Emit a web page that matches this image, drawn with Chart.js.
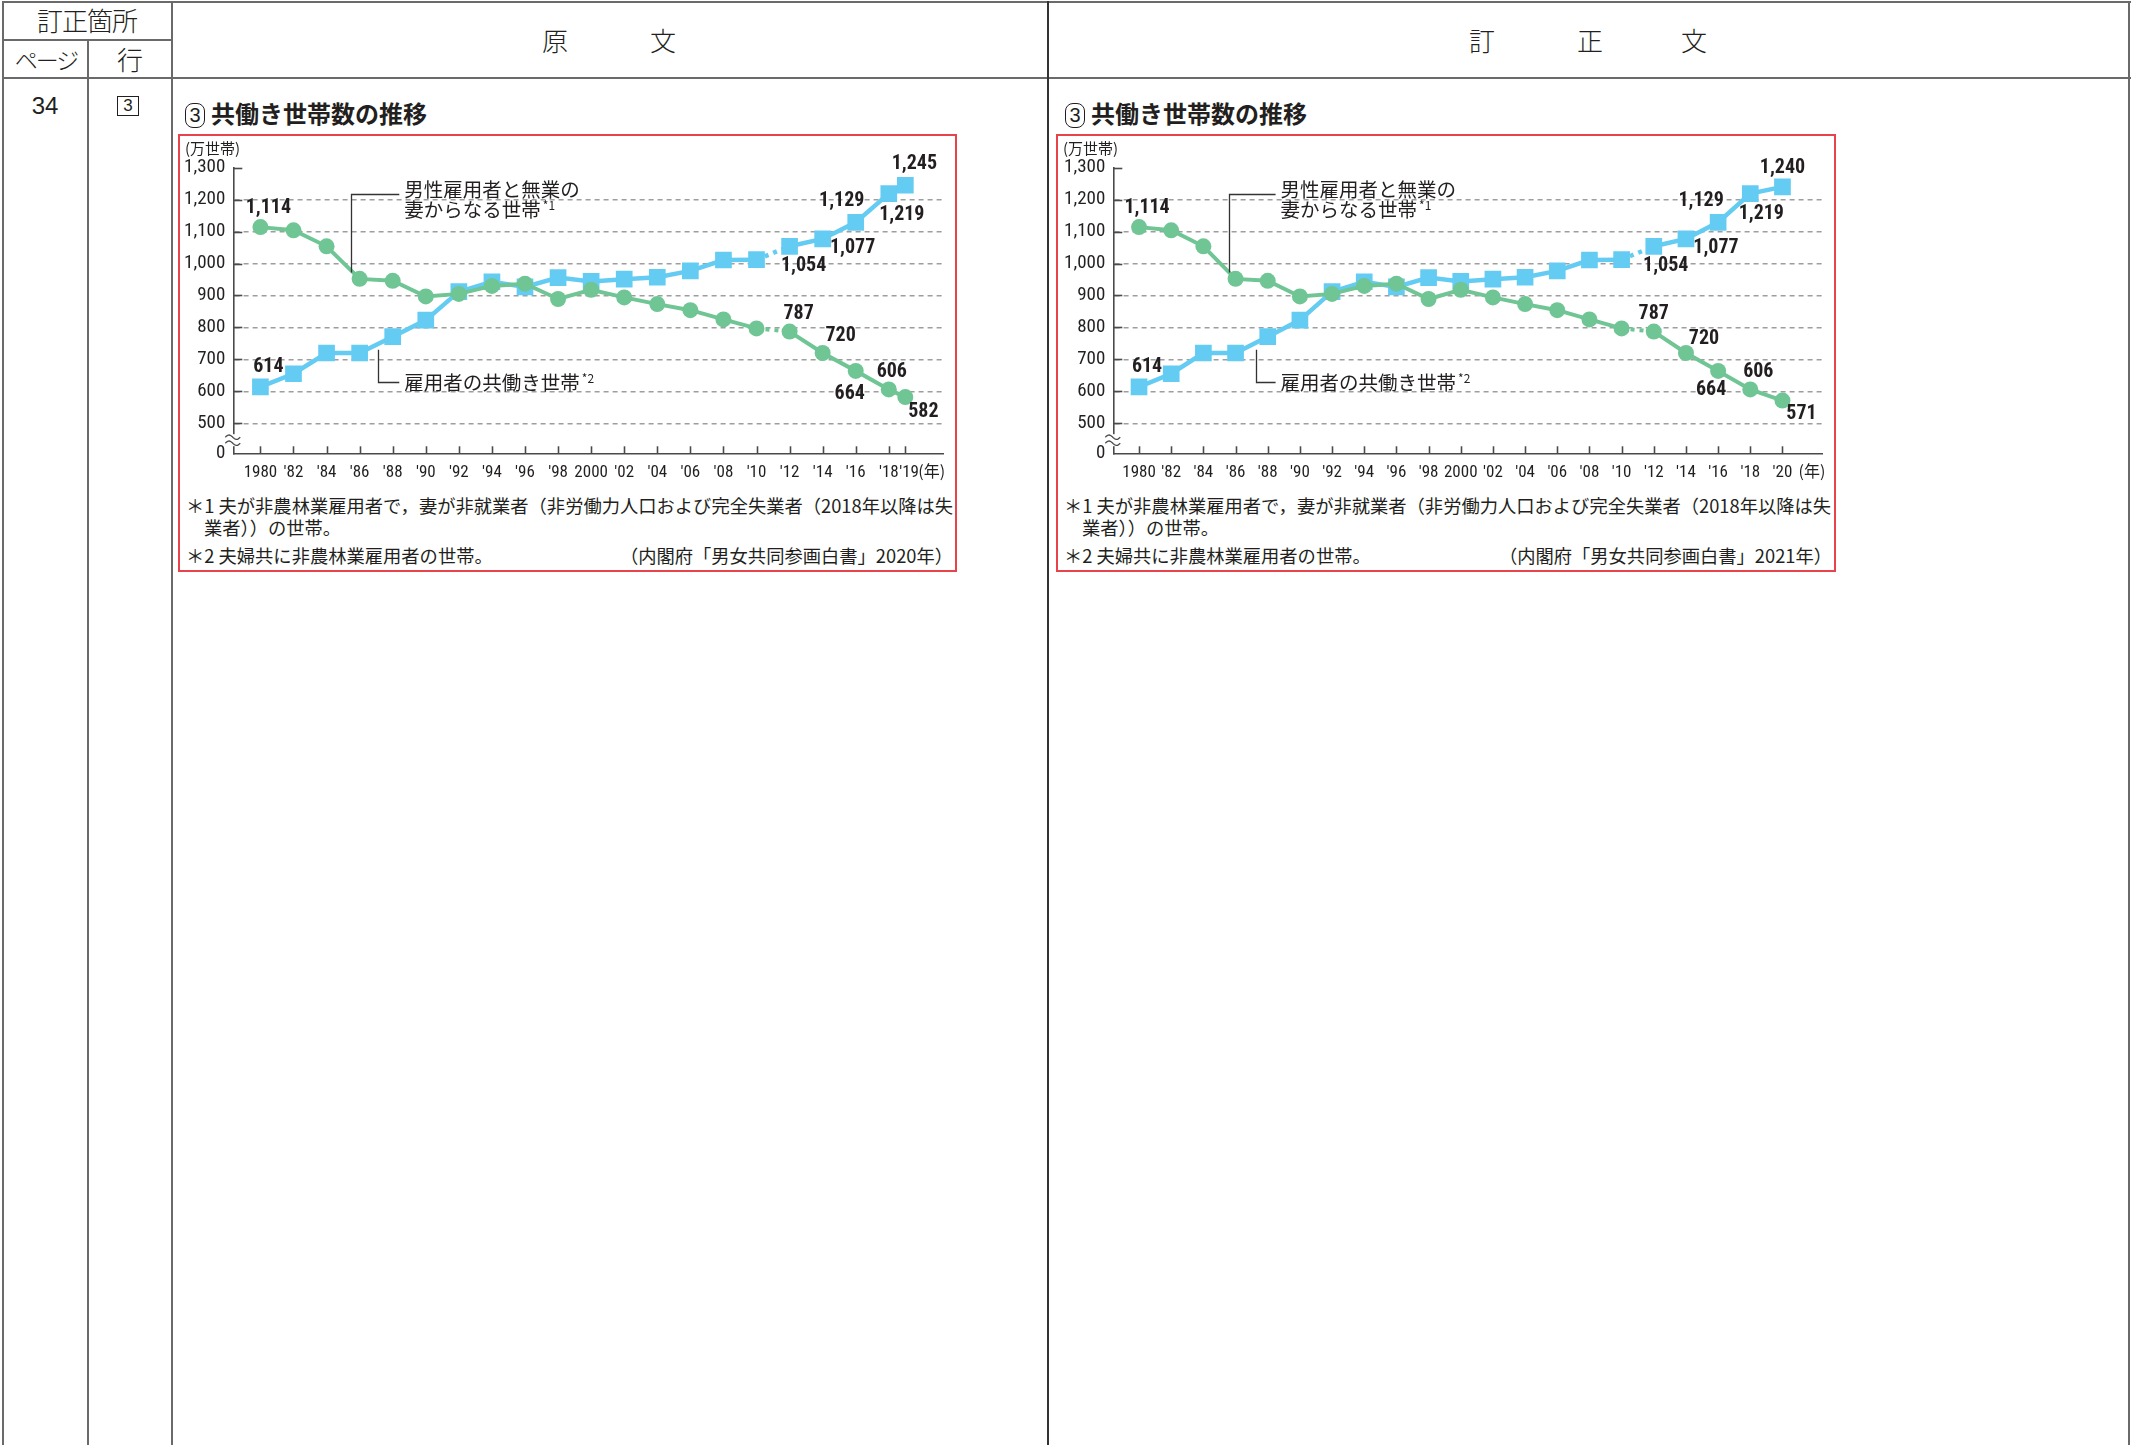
<!DOCTYPE html>
<html>
<head>
<meta charset="utf-8">
<script src="https://cdn.jsdelivr.net/npm/chart.js@4.4.0/dist/chart.umd.min.js"></script>
<style>
body { margin: 0; background: #fff; }
#page { position: relative; width: 2134px; height: 1445px; overflow: hidden; font-family: 'Noto Sans CJK JP', sans-serif; color: #231f20; }
.ln { position: absolute; background: #6a6a6a; }
.t { position: absolute; white-space: nowrap; line-height: 1; transform: translate(-50%, -50%); }
.hd { font-size: 26px; font-weight: 300; }
.title { position: absolute; white-space: nowrap; font-size: 24px; font-weight: 700; line-height: 28px; }
.circ { display: inline-block; width: 18px; height: 23px; border: 1.8px solid #231f20; border-radius: 8px; font-size: 20px; line-height: 23px; text-align: center; font-weight: 400; margin-right: 6px; vertical-align: 1px; font-family: 'Liberation Sans', sans-serif; }
.frame { position: absolute; border: 2px solid #e8434b; box-sizing: border-box; }
.frame canvas { position: absolute; left: 0; top: 0; }
.note { position: absolute; font-size: 18.3px; line-height: 18px; white-space: nowrap; }
</style>
</head>
<body>
<div id="page">
  <!-- table rules -->
  <div class="ln" style="left:2px;top:1px;width:2129px;height:2px"></div>
  <div class="ln" style="left:2px;top:39px;width:170px;height:2px"></div>
  <div class="ln" style="left:2px;top:77px;width:2129px;height:2px"></div>
  <div class="ln" style="left:2px;top:1px;width:2px;height:1444px"></div>
  <div class="ln" style="left:87px;top:39px;width:2px;height:1406px"></div>
  <div class="ln" style="left:171px;top:1px;width:2px;height:1444px"></div>
  <div class="ln" style="left:1047px;top:1px;width:2px;height:1444px;background:#333"></div>
  <div class="ln" style="left:2128px;top:1px;width:2px;height:1444px"></div>

  <div class="t hd" style="left:87px;top:20px;letter-spacing:-1px">訂正箇所</div>
  <div class="t hd" style="left:46px;top:59px;font-size:23px;letter-spacing:-2px">ページ</div>
  <div class="t hd" style="left:130px;top:59px">行</div>
  <div class="t hd" style="left:555px;top:40px">原</div>
  <div class="t hd" style="left:663px;top:40px">文</div>
  <div class="t hd" style="left:1482px;top:40px">訂</div>
  <div class="t hd" style="left:1590px;top:40px">正</div>
  <div class="t hd" style="left:1694px;top:40px">文</div>

  <div class="t" style="left:45px;top:106px;font-size:24px;font-family:'Liberation Sans',sans-serif">34</div>
  <div class="t" style="left:128px;top:106px;width:20px;height:18px;border:1.5px solid #231f20;font-size:17px;line-height:18px;text-align:center;font-family:'Liberation Sans',sans-serif">3</div>

  <div class="title" style="left:185px;top:99px"><span class="circ">3</span>共働き世帯数の推移</div>
  <div class="title" style="left:1065px;top:99px"><span class="circ">3</span>共働き世帯数の推移</div>

  <div class="frame" style="left:178px;top:134px;width:779px;height:438px">
    <canvas id="chartOld" width="775" height="356"></canvas>
    <div class="note" style="left:6px;top:360px">＊1 夫が非農林業雇用者で，妻が非就業者（非労働力人口および完全失業者（2018年以降は失</div>
    <div class="note" style="left:24px;top:382px">業者））の世帯。</div>
    <div class="note" style="left:6px;top:410px">＊2 夫婦共に非農林業雇用者の世帯。</div>
    <div class="note" style="right:2px;top:410px">（内閣府「男女共同参画白書」2020年）</div>
  </div>

  <div class="frame" style="left:1056px;top:134px;width:780px;height:438px">
    <canvas id="chartNew" width="776" height="356"></canvas>
    <div class="note" style="left:6px;top:360px">＊1 夫が非農林業雇用者で，妻が非就業者（非労働力人口および完全失業者（2018年以降は失</div>
    <div class="note" style="left:24px;top:382px">業者））の世帯。</div>
    <div class="note" style="left:6px;top:410px">＊2 夫婦共に非農林業雇用者の世帯。</div>
    <div class="note" style="right:2px;top:410px">（内閣府「男女共同参画白書」2021年）</div>
  </div>
</div>

<script>
// --- data (万世帯) ---
var yearsOld = [1980,1982,1984,1986,1988,1990,1992,1994,1996,1998,2000,2002,2004,2006,2008,2010,2012,2014,2016,2018,2019];
var xLabelsOld = ['1980',"'82","'84","'86","'88","'90","'92","'94","'96","'98",'2000',"'02","'04","'06","'08","'10","'12","'14","'16","'18","'19"];
var dualOld   = [614,655,720,720,771,823,912,943,927,956,944,951,957,977,1011,1012,1054,1077,1129,1219,1245];
var singleOld = [1114,1104,1054,952,946,897,905,930,937,889,918,894,873,854,825,797,787,720,664,606,582];

var yearsNew = [1980,1982,1984,1986,1988,1990,1992,1994,1996,1998,2000,2002,2004,2006,2008,2010,2012,2014,2016,2018,2020];
var xLabelsNew = ['1980',"'82","'84","'86","'88","'90","'92","'94","'96","'98",'2000',"'02","'04","'06","'08","'10","'12","'14","'16","'18","'20"];
var dualNew   = [614,655,720,720,771,823,912,943,927,956,944,951,957,977,1011,1012,1054,1077,1129,1219,1240];
var singleNew = [1114,1104,1054,952,946,897,905,930,937,889,918,894,873,854,825,797,787,720,664,606,571];

var yTicks = [500,600,700,800,900,1000,1100,1200,1300];

var BLUE = '#64ccf3';
var GREEN = '#6fc594';
var INK = '#231f20';
var AXIS = '#4a4a4a';
var Y_MIN = 406;   // where the broken axis shows "0"
var NARROW = "'Roboto Condensed','DejaVu Sans Condensed',Roboto,sans-serif";
var JP = "'Noto Sans CJK JP',sans-serif";

Chart.defaults.font.family = NARROW;
Chart.defaults.color = INK;

function fmt(v){ return v.toLocaleString('en-US'); }

function sine(c, x0, y0, w, a){
    c.beginPath();
    for (var t = 0; t <= w; t++) {
        var y = y0 - a * Math.sin(t / w * Math.PI * 2);
        if (t === 0) c.moveTo(x0 + t, y); else c.lineTo(x0 + t, y);
    }
    c.stroke();
}

var decor = {
    id: 'decor',
    afterDraw: function(chart, args, o){
        var c = chart.ctx, xs = chart.scales.x, ys = chart.scales.y, ca = chart.chartArea;
        c.save();
        // ticks on the axes, pointing inwards
        c.strokeStyle = AXIS; c.lineWidth = 1.6;
        yTicks.forEach(function(v){
            var y = Math.round(ys.getPixelForValue(v)) + 0.5;
            c.beginPath(); c.moveTo(ca.left, y); c.lineTo(ca.left + 9, y); c.stroke();
        });
        o.years.forEach(function(v){
            var x = Math.round(xs.getPixelForValue(v)) + 0.5;
            c.beginPath(); c.moveTo(x, ca.bottom); c.lineTo(x, ca.bottom - 7); c.stroke();
        });
        // axis break
        var yb = ys.getPixelForValue(447);
        c.fillStyle = '#fff';
        c.fillRect(ca.left - 3, yb - 6, 6, 12);
        c.lineWidth = 1.3;
        sine(c, ca.left - 8, yb - 3, 15, 2.2);
        sine(c, ca.left - 8, yb + 3, 15, 2.2);

        // unit and year labels
        c.fillStyle = INK;
        c.textBaseline = 'middle';
        c.textAlign = 'left';
        c.font = '15px ' + JP;
        c.fillText('(万世帯)', 5, 12);
        c.font = '16px ' + JP;
        var last = o.years[o.years.length - 1];
        c.fillText('(年)', xs.getPixelForValue(last) + o.yearGap, ca.bottom + 18);

        // value labels
        c.textAlign = 'center';
        c.font = 'bold 20px ' + NARROW;
        o.spots.forEach(function(s){
            var ds = chart.data.datasets[s.ds];
            var pt = chart.getDatasetMeta(s.ds).data[s.i];
            c.fillText(fmt(ds.data[s.i].y), pt.x + s.dx, pt.y + s.dy);
        });

        // leader lines and series names
        c.strokeStyle = '#333'; c.lineWidth = 1.3;
        var tx = xs.getPixelForValue(o.textYear);
        var gx = Math.round(xs.getPixelForValue(o.greenLead)) + 0.5;
        var gy = Math.round(ys.getPixelForValue(1218)) + 0.5;
        c.beginPath(); c.moveTo(tx - 5, gy); c.lineTo(gx, gy); c.lineTo(gx, ys.getPixelForValue(972)); c.stroke();
        var bx = Math.round(xs.getPixelForValue(o.blueLead)) + 0.5;
        var by = Math.round(ys.getPixelForValue(630)) + 0.5;
        c.beginPath(); c.moveTo(bx, ys.getPixelForValue(730)); c.lineTo(bx, by); c.lineTo(tx - 5, by); c.stroke();

        c.textAlign = 'left';
        c.font = '19.5px ' + JP;
        c.fillText('男性雇用者と無業の', tx, ys.getPixelForValue(1233));
        var l2 = '妻からなる世帯';
        c.fillText(l2, tx, ys.getPixelForValue(1168));
        var w2 = c.measureText(l2).width;
        var l3 = '雇用者の共働き世帯';
        c.fillText(l3, tx, by);
        var w3 = c.measureText(l3).width;
        c.font = '12px ' + JP;
        c.fillText('*1', tx + w2 + 2, ys.getPixelForValue(1168) - 4);
        c.fillText('*2', tx + w3 + 2, by - 4);
        c.restore();
    }
};

function makeChart(id, years, xLabels, dual, single, o){
    var ctx = document.getElementById(id).getContext('2d');
    return new Chart(ctx, {
        type: 'line',
        plugins: [decor],
        data: {
            datasets: [{
                label: '男性雇用者と無業の妻からなる世帯',
                data: years.map(function(y, i){ return {x: y, y: single[i]}; }),
                borderColor: GREEN,
                backgroundColor: GREEN,
                borderWidth: 4,
                pointStyle: 'circle',
                pointRadius: 8,
                pointBorderWidth: 0,
                segment: { borderDash: function(s){ return s.p0.parsed.x === 2010 ? [4, 5] : undefined; } }
            }, {
                label: '雇用者の共働き世帯',
                data: years.map(function(y, i){ return {x: y, y: dual[i]}; }),
                borderColor: BLUE,
                backgroundColor: BLUE,
                borderWidth: 4.5,
                pointStyle: 'rect',
                pointRadius: 11.8,
                pointBorderWidth: 0,
                segment: { borderDash: function(s){ return s.p0.parsed.x === 2010 ? [4, 5] : undefined; } }
            }]
        },
        options: {
            animation: false,
            responsive: false,
            devicePixelRatio: 1,
            layout: { padding: { top: 31.7, right: o.padRight, left: 0, bottom: 0 } },
            plugins: {
                legend: { display: false },
                tooltip: { enabled: false },
                decor: o
            },
            scales: {
                x: {
                    type: 'linear',
                    min: o.xMin,
                    max: o.xMax,
                    afterBuildTicks: function(s){ s.ticks = years.map(function(v){ return {value: v}; }); },
                    afterFit: function(s){ s.height = 38.7; },
                    ticks: {
                        autoSkip: false, maxRotation: 0, padding: 9, color: INK,
                        font: { size: 17 },
                        callback: function(v){
                            var i = years.indexOf(v);
                            // the odd last year sits close to '18, nudge it right a little
                            return (o.nudgeLast && i === years.length - 1) ? '\u2002' + xLabels[i] : xLabels[i];
                        }
                    },
                    grid: { display: false, drawTicks: false },
                    border: { display: true, color: AXIS, width: 1.6 }
                },
                y: {
                    min: Y_MIN,
                    max: 1300,
                    afterBuildTicks: function(s){ s.ticks = [Y_MIN].concat(yTicks).map(function(v){ return {value: v}; }); },
                    afterFit: function(s){ s.width = o.yAxisW; },
                    ticks: {
                        padding: 8, color: INK,
                        font: { size: 19 },
                        callback: function(v){ return v === Y_MIN ? '0' : fmt(v); }
                    },
                    grid: {
                        drawTicks: false,
                        lineWidth: 1.5,
                        color: function(c){ return (c.tick && (c.tick.value === Y_MIN || c.tick.value === 1300)) ? 'rgba(0,0,0,0)' : '#9e9e9e'; }
                    },
                    border: { display: true, color: AXIS, width: 1.6, dash: [5, 4] }
                }
            }
        }
    });
}

makeChart('chartOld', yearsOld, xLabelsOld, dualOld, singleOld, {
    years: yearsOld, xMin: 1978.36, xMax: 2021.29, yAxisW: 53.3, padRight: 5, yearGap: 13, nudgeLast: true,
    textYear: 1988.7, greenLead: 1985.5, blueLead: 1987.1,
    spots: [
        {ds: 0, i: 0, dx: 8, dy: -19}, {ds: 0, i: 16, dx: 9, dy: -18}, {ds: 0, i: 17, dx: 18, dy: -17},
        {ds: 0, i: 18, dx: -6, dy: 23}, {ds: 0, i: 19, dx: 3, dy: -17}, {ds: 0, i: 20, dx: 18, dy: 15},
        {ds: 1, i: 0, dx: 8, dy: -20}, {ds: 1, i: 16, dx: 14, dy: 20}, {ds: 1, i: 17, dx: 30, dy: 9},
        {ds: 1, i: 18, dx: -14, dy: -21}, {ds: 1, i: 19, dx: 13, dy: 21}, {ds: 1, i: 20, dx: 9, dy: -21}
    ]
});

makeChart('chartNew', yearsNew, xLabelsNew, dualNew, singleNew, {
    years: yearsNew, xMin: 1978.40, xMax: 2022.47, yAxisW: 55.3, padRight: 5.3, yearGap: 16, nudgeLast: false,
    textYear: 1988.8, greenLead: 1985.6, blueLead: 1987.3,
    spots: [
        {ds: 0, i: 0, dx: 8, dy: -19}, {ds: 0, i: 16, dx: 0, dy: -18}, {ds: 0, i: 17, dx: 18, dy: -14},
        {ds: 0, i: 18, dx: -7, dy: 19}, {ds: 0, i: 19, dx: 8, dy: -17}, {ds: 0, i: 20, dx: 19, dy: 13},
        {ds: 1, i: 0, dx: 8, dy: -20}, {ds: 1, i: 16, dx: 12, dy: 20}, {ds: 1, i: 17, dx: 30, dy: 9},
        {ds: 1, i: 18, dx: -17, dy: -21}, {ds: 1, i: 19, dx: 11, dy: 20}, {ds: 1, i: 20, dx: 0, dy: -19}
    ]
});
</script>
</body>
</html>
